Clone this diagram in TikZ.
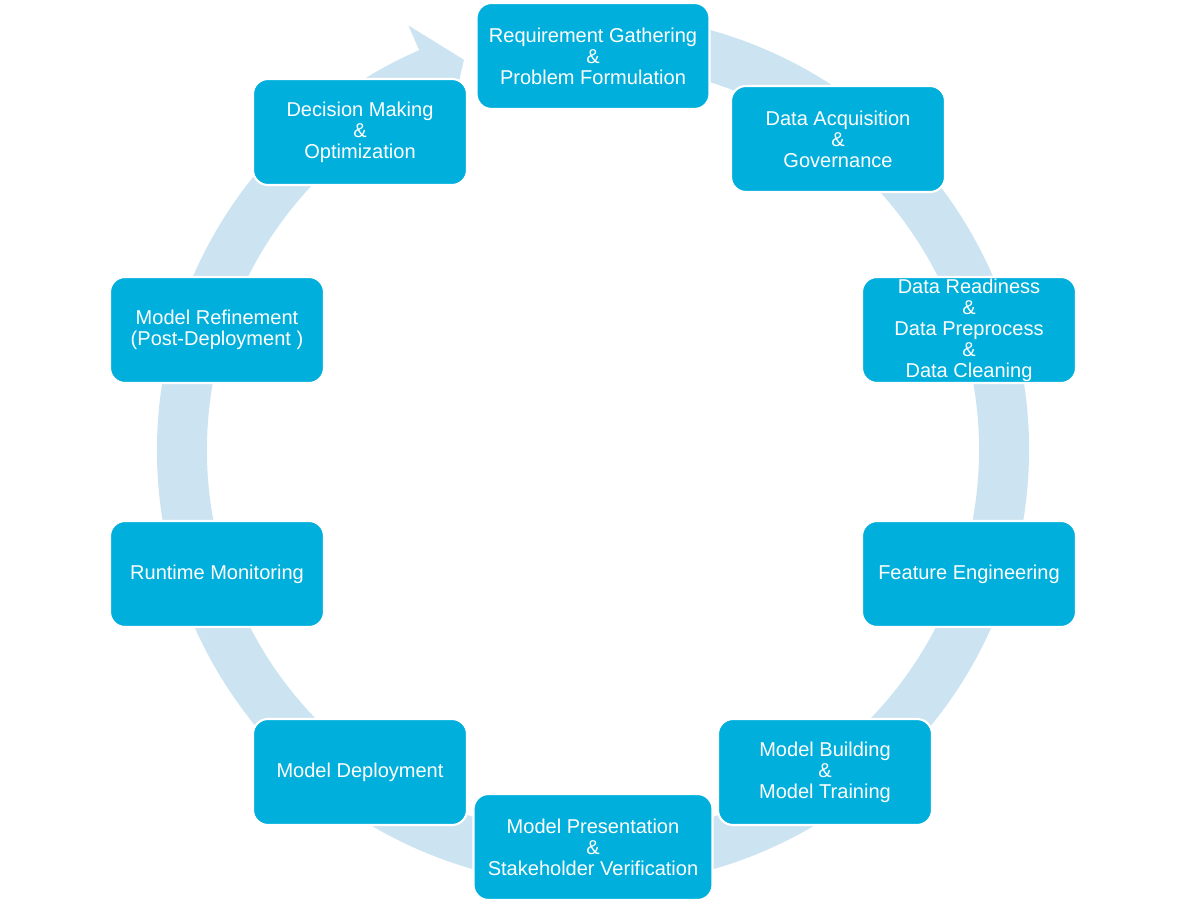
\documentclass[tikz,border=0pt]{standalone}
\usepackage{fontspec}
\setmainfont{Liberation Sans}
\definecolor{boxblue}{RGB}{0,175,219}
\definecolor{ringblue}{RGB}{204,228,241}

\begin{document}
\begin{tikzpicture}[x=0.02cm, y=0.02cm,
            ring/.style={fill=ringblue},
            phase/.style={rectangle, rounded corners=0.3cm, fill=boxblue, draw=white,
                line width=1.2pt, text=white, align=center,
                minimum width=4.28cm, minimum height=2.12cm, inner xsep=2pt, inner ysep=0pt,
                font=\fontsize{11.4}{11.95}\selectfont}]

            \useasboundingbox (0,0) rectangle (1184,904);

            \begin{scope}[shift={(593,454)}]
                \fill[ring] (80:436) arc[start angle=80, end angle=-246.5, radius=436]
                    -- (-246.5:463) -- (-251.7:411) -- (-246.5:359) -- (-246.5:386)
                    arc[start angle=-246.5, end angle=80, radius=386] -- cycle;
            \end{scope}

            \node[phase, minimum width=4.66cm] (req) at (593,848)
                {Requirement Gathering\\\&\\Problem Formulation};
            \node[phase] (acq) at (838,765) {Data Acquisition\\\&\\Governance};
            \node[phase] (ready) at (969,574)
                {Data Readiness\\\&\\Data Preprocess\\\&\\Data Cleaning};
            \node[phase] (feat) at (969,330) {Feature Engineering};
            \node[phase] (build) at (825,132) {Model Building\\\&\\Model Training};
            \node[phase, minimum width=4.78cm] (present) at (593,57)
                {Model Presentation\\\&\\Stakeholder Verification};
            \node[phase] (deploy) at (360,132) {Model Deployment};
            \node[phase] (monitor) at (217,330) {Runtime Monitoring};
            \node[phase] (refine) at (217,574) {Model Refinement\\(Post-Deployment )};
            \node[phase] (decide) at (360,772) {Decision Making\\\&\\Optimization};
        \end{tikzpicture}
\end{document}
